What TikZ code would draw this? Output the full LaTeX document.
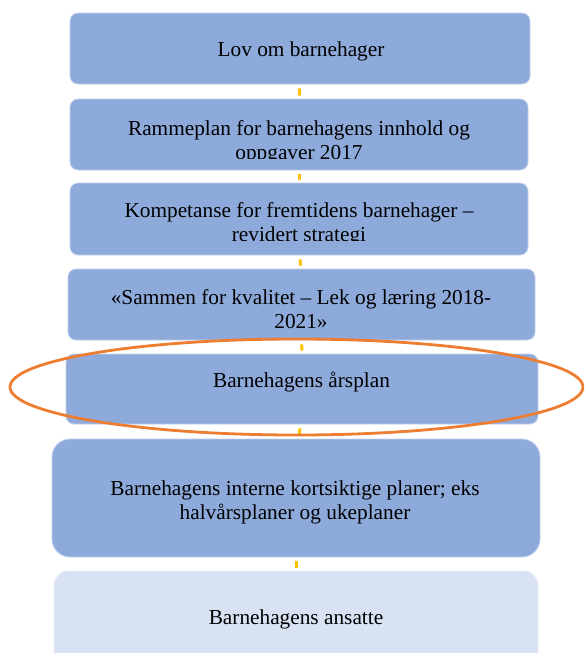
\documentclass[tikz,border=0pt]{standalone}
\usepackage{fontspec}
\setmainfont{Liberation Serif}
\definecolor{boxblue}{HTML}{8EAADB}
\definecolor{boxpale}{HTML}{D9E2F3}
\definecolor{ringorange}{HTML}{ED7D31}
\definecolor{baryellow}{HTML}{FFC000}

\begin{document}
\begin{tikzpicture}[x=1pt,y=-1pt]
    \tikzstyle{box}=[rectangle,rounded corners=8pt,fill=boxblue,draw=white!45!boxblue,line width=0.8pt,inner sep=0pt]
    \tikzstyle{txt}=[anchor=base,align=center,inner sep=0pt,font=\fontsize{21.3}{24}\selectfont]
    \tikzstyle{link}=[draw=baryellow,line width=3pt,shorten <=4pt,shorten >=3pt]
    \clip (0,0) rectangle (584,653);

    \foreach \num/\x/\y/\w/\h in {1/300/48.5/460/71, 2/299/134.5/458/71, 3/299/219/458/72, 4/301.5/304.5/467/71, 5/302/389/472/70}
        \node[box,minimum width=\w pt,minimum height=\h pt] (B-\num) at (\x,\y) {};
    \node[box,rounded corners=18pt,minimum width=488pt,minimum height=118pt] (B-6) at (296,498) {};
    \node[box,rounded corners=14pt,fill=boxpale,draw=white!40!boxpale,minimum width=484pt,minimum height=98pt] (B-7) at (296,620) {};

    \foreach \from/\to in {1/2,2/3,3/4,4/5,5/6,6/7}
        \draw[link] (B-\from) -- (B-\to);

    % base of a two-line node is its last line
    \node[txt] (T-1) at (301,56) {Lov om barnehager};
    \begin{scope}
        \clip (60,99) rectangle (540,158);
        \node[txt] (T-2) at (299,159) {Rammeplan for barnehagens innhold og\\oppgaver 2017};
    \end{scope}
    \begin{scope}
        \clip (60,183) rectangle (540,240);
        \node[txt] (T-3) at (299,241) {Kompetanse for fremtidens barnehager –\\revidert strategi};
    \end{scope}
    \node[txt] (T-4) at (301,328) {«Sammen for kvalitet – Lek og læring 2018-\\2021»};
    \node[txt] (T-5) at (301.5,387) {Barnehagens årsplan};
    \node[txt] (T-6) at (295,519) {Barnehagens interne kortsiktige planer; eks\\halvårsplaner og ukeplaner};
    \node[txt] (T-7) at (296,624) {Barnehagens ansatte};

    % ring round the year plan
    \draw[ringorange,line width=2.8pt] (296.5,387) ellipse (286.5 and 48);
\end{tikzpicture}
\end{document}
